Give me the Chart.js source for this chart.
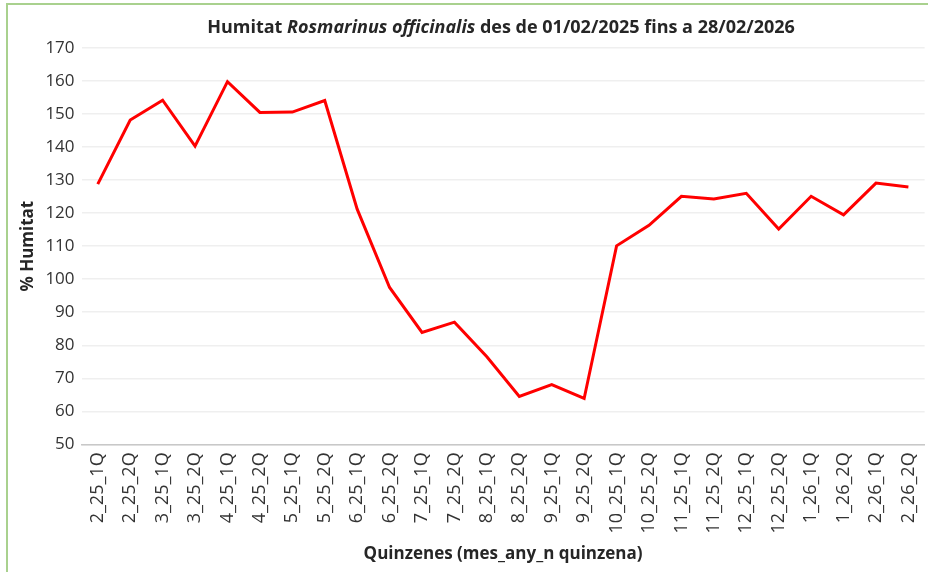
<!DOCTYPE html>
<html>
<head>
<meta charset="utf-8">
<script src="https://cdn.jsdelivr.net/npm/chart.js@4/dist/chart.umd.min.js"></script>
<style>
  html, body { margin: 0; padding: 0; background: #fff; overflow: hidden; }
  #frame { position: absolute; left: 6px; top: 3px; width: 960px; height: 620px;
           border-top: 2px solid #a9d18e; border-left: 2px solid #a9d18e; }
  #wrap { position: absolute; left: 0; top: 0; width: 938px; height: 572px; }
</style>
</head>
<body>
<div id="frame"></div>
<div id="wrap"><canvas id="humitat"></canvas></div>
<script>
const quinzenes = ['2_25_1Q', '2_25_2Q', '3_25_1Q', '3_25_2Q', '4_25_1Q', '4_25_2Q', '5_25_1Q', '5_25_2Q',
    '6_25_1Q', '6_25_2Q', '7_25_1Q', '7_25_2Q', '8_25_1Q', '8_25_2Q', '9_25_1Q', '9_25_2Q',
    '10_25_1Q', '10_25_2Q', '11_25_1Q', '11_25_2Q', '12_25_1Q', '12_25_2Q', '1_26_1Q', '1_26_2Q',
    '2_26_1Q', '2_26_2Q'];
const humitat = [128.8, 148.2, 154.2, 140.3, 159.8, 150.5, 150.6, 154.1,
    121.2, 97.5, 83.9, 87.0, 76.5, 64.5, 68.1, 63.9,
    110.1, 116.3, 125.1, 124.3, 126.0, 115.2, 125.1, 119.5,
    129.1, 127.9];
const yMin = 50;
const yMax = 170;
const yStep = 10;

const ctx = document.getElementById('humitat');
const font = "'Open Sans', sans-serif";

// titol amb part en cursiva (nom cientific)
const titlePlugin = {
    id: 'titolCursiva',
    afterDraw(chart) {
        const c = chart.ctx;
        const parts = [
            { t: 'Humitat ', f: 'bold 18px ' + font },
            { t: 'Rosmarinus officinalis', f: 'italic bold 18px ' + font },
            { t: ' des de 01/02/2025 fins a 28/02/2026', f: 'bold 18px ' + font }
        ];
        c.save();
        let w = 0;
        parts.forEach(p => { c.font = p.f; w += c.measureText(p.t).width; });
        let x = 501 - w / 2;
        c.fillStyle = '#262626';
        c.textBaseline = 'middle';
        parts.forEach(p => {
            c.font = p.f;
            c.fillText(p.t, x, 28);
            x += c.measureText(p.t).width;
        });
        c.restore();
    }
};

new Chart(ctx, {
    type: 'line',
    data: {
        labels: quinzenes,
        datasets: [{
            label: '% Humitat',
            data: humitat,
            borderColor: '#ff0000',
            borderWidth: 3,
            pointRadius: 0,
            tension: 0,
            fill: false
        }]
    },
    options: {
        responsive: true,
        maintainAspectRatio: false,
        animation: false,
        layout: { padding: { top: 48, right: 0, bottom: 8, left: 18 } },
        plugins: {
            legend: { display: false },
            tooltip: { enabled: false }
        },
        scales: {
            x: {
                offset: true,
                grid: { display: false, drawTicks: false },
                border: { color: '#c8c8c8', width: 1.5 },
                ticks: {
                    color: '#333',
                    font: { family: font, size: 18 },
                    maxRotation: 90,
                    minRotation: 90,
                    autoSkip: false,
                    padding: 8
                },
                title: {
                    display: true,
                    text: 'Quinzenes (mes_any_n quinzena)',
                    color: '#262626',
                    font: { family: font, size: 17, weight: 'bold' },
                    padding: { top: 2, bottom: 0 }
                }
            },
            y: {
                min: yMin,
                max: yMax,
                grid: { color: '#efefef', lineWidth: 1.5, drawTicks: false },
                border: { display: false },
                ticks: {
                    stepSize: yStep,
                    color: '#333',
                    font: { family: font, size: 17 },
                    padding: 7
                },
                title: {
                    display: true,
                    text: '% Humitat',
                    color: '#262626',
                    font: { family: font, size: 17, weight: 'bold' },
                    padding: { top: 0, bottom: 0 }
                }
            }
        }
    },
    plugins: [titlePlugin]
});
</script>
</body>
</html>
